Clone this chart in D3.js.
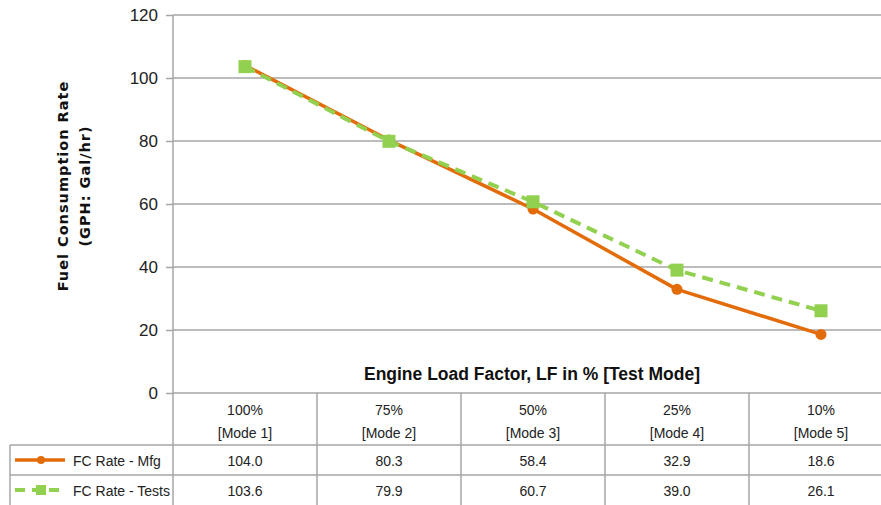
<!DOCTYPE html>
<html>
<head>
<meta charset="utf-8">
<script src="https://cdn.jsdelivr.net/npm/d3@7"></script>
<style>
  body { margin: 0; background: #fff; }
  svg { display: block; font-family: "Liberation Sans", Arial, sans-serif; }
</style>
</head>
<body>
<div id="chart"></div>
<script>
// Data
const loadPct = ['100%', '75%', '50%', '25%', '10%'];
const modes = ['[Mode 1]', '[Mode 2]', '[Mode 3]', '[Mode 4]', '[Mode 5]'];
const mfg = [104.0, 80.3, 58.4, 32.9, 18.6];
const tests = [103.6, 79.9, 60.7, 39.0, 26.1];
const yTicks = [0, 20, 40, 60, 80, 100, 120];
const seriesNames = ['FC Rate - Mfg', 'FC Rate - Tests'];

const W = 881, H = 505;
const X0 = 173, X1 = 893;     // plot area (runs past the right edge)
const Y0 = 393, Y1 = 15;      // 0 and 120
const ROW1 = 445, ROW2 = 475; // table row lines
const GRID = '#a6a6a6';
const ORANGE = '#e36c0a', GREEN = '#92d050';

const svg = d3.select('#chart').append('svg').attr('width', W).attr('height', H);

const x = d3.scaleBand().domain(d3.range(loadPct.length)).range([X0, X1]);
const y = d3.scaleLinear().domain([0, 120]).range([Y0, Y1]);

// gridlines + y axis
const yAxis = svg.append('g').attr('transform', `translate(${X0},0)`)
  .call(d3.axisLeft(y).tickValues(yTicks).tickSize(7).tickPadding(8).tickFormat(d3.format('d')));
yAxis.select('.domain').remove();
yAxis.selectAll('.tick line').attr('stroke', GRID).attr('stroke-width', 1.5);
yAxis.selectAll('.tick text').attr('font-size', 17).attr('fill', '#222');
svg.append('g').selectAll('line').data(yTicks).join('line')
  .attr('x1', X0).attr('x2', W).attr('y1', d => y(d)).attr('y2', d => y(d))
  .attr('stroke', GRID).attr('stroke-width', 1.5);
svg.append('line').attr('x1', X0).attr('x2', X0).attr('y1', Y1).attr('y2', H)
  .attr('stroke', GRID).attr('stroke-width', 1.5);

// y title
const yt = svg.append('text').attr('transform', 'translate(68,186) rotate(-90)')
  .attr('text-anchor', 'middle').attr('font-family', '"DejaVu Sans", sans-serif')
  .attr('font-weight', 'bold').attr('font-size', 14.5).attr('letter-spacing', 1).attr('fill', '#111');
yt.append('tspan').attr('x', 0).attr('dy', 0).text('Fuel Consumption Rate');
yt.append('tspan').attr('x', 0).attr('dy', 22).text('(GPH: Gal/hr)');

// x title
svg.append('text').attr('x', 532).attr('y', 380).attr('text-anchor', 'middle')
  .attr('font-weight', 'bold').attr('font-size', 17.5).attr('fill', '#111')
  .text('Engine Load Factor, LF in % [Test Mode]');

// data table
const tbl = svg.append('g');
d3.range(1, loadPct.length).forEach(i => {
  tbl.append('line').attr('x1', x(i)).attr('x2', x(i)).attr('y1', Y0).attr('y2', H)
    .attr('stroke', GRID).attr('stroke-width', 1.5);
});
[ROW1, ROW2].forEach(r => tbl.append('line').attr('x1', 10).attr('x2', W)
  .attr('y1', r).attr('y2', r).attr('stroke', GRID).attr('stroke-width', 1.5));
tbl.append('line').attr('x1', 10).attr('x2', 10).attr('y1', ROW1).attr('y2', H)
  .attr('stroke', GRID).attr('stroke-width', 1.5);

const cx = i => x(i) + x.bandwidth() / 2;
tbl.selectAll('.pct').data(loadPct).join('text')
  .attr('x', (d, i) => cx(i)).attr('y', 415).attr('text-anchor', 'middle')
  .attr('font-size', 14).attr('fill', '#222').text(d => d);
tbl.selectAll('.mode').data(modes).join('text')
  .attr('x', (d, i) => cx(i)).attr('y', 438).attr('text-anchor', 'middle')
  .attr('font-size', 14).attr('fill', '#222').text(d => d);
[mfg, tests].forEach((vals, k) => {
  tbl.append('g').selectAll('text').data(vals).join('text')
    .attr('x', (d, i) => cx(i)).attr('y', (k ? ROW2 : ROW1) + 21).attr('text-anchor', 'middle')
    .attr('font-size', 14).attr('fill', '#222').text(d => d.toFixed(1));
  tbl.append('text').attr('x', 73).attr('y', (k ? ROW2 : ROW1) + 21)
    .attr('font-size', 14).attr('fill', '#222').text(seriesNames[k]);
});

// legend keys
const ky1 = ROW1 + 15, ky2 = ROW2 + 15;
svg.append('line').attr('x1', 15).attr('x2', 65).attr('y1', ky1).attr('y2', ky1)
  .attr('stroke', ORANGE).attr('stroke-width', 3.5);
svg.append('circle').attr('cx', 41).attr('cy', ky1).attr('r', 4).attr('fill', ORANGE);
svg.append('line').attr('x1', 15).attr('x2', 65).attr('y1', ky2).attr('y2', ky2)
  .attr('stroke', GREEN).attr('stroke-width', 4).attr('stroke-dasharray', '10,7');
svg.append('rect').attr('x', 36).attr('y', ky2 - 5).attr('width', 10).attr('height', 10).attr('fill', GREEN);

// series lines
const line = d3.line().x((d, i) => cx(i)).y(d => y(d));
svg.append('path').datum(mfg).attr('d', line).attr('fill', 'none')
  .attr('stroke', ORANGE).attr('stroke-width', 3.5).attr('stroke-linejoin', 'round');
svg.append('g').selectAll('circle').data(mfg).join('circle')
  .attr('cx', (d, i) => cx(i)).attr('cy', d => y(d)).attr('r', 5.5).attr('fill', ORANGE);
svg.append('path').datum(tests).attr('d', line).attr('fill', 'none')
  .attr('stroke', GREEN).attr('stroke-width', 4).attr('stroke-dasharray', '11,7');
svg.append('g').selectAll('rect').data(tests).join('rect')
  .attr('x', (d, i) => cx(i) - 6.5).attr('y', d => y(d) - 6.5).attr('width', 13).attr('height', 13)
  .attr('fill', GREEN);
</script>
</body>
</html>
